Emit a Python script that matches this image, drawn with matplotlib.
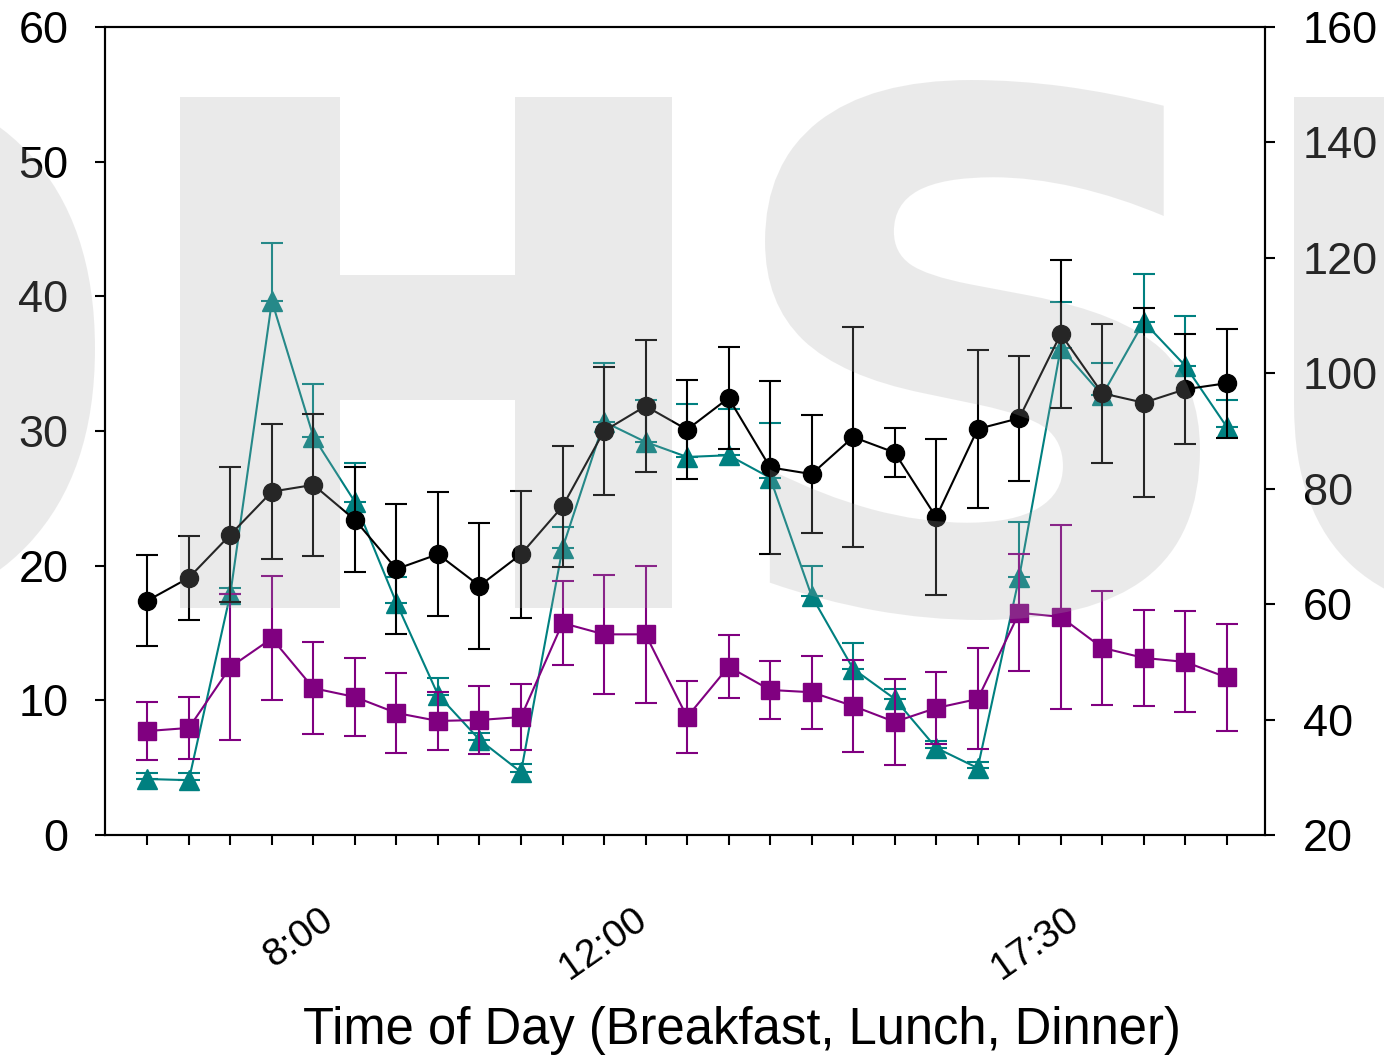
import numpy as np
import matplotlib
matplotlib.use("Agg")
import matplotlib.pyplot as plt
from matplotlib.textpath import TextPath
from matplotlib.font_manager import FontProperties
from matplotlib.patches import PathPatch, Rectangle
from matplotlib.transforms import Affine2D

plt.rcParams["font.family"] = ["Liberation Sans", "DejaVu Sans"]

# ---- data -------------------------------------------------------------
time_labels = ["8:00", "12:00", "17:30"]
time_label_pos = [3.63, 10.99, 21.39]

black_mean = [17.4, 19.1, 22.3, 25.5, 26.0, 23.4, 19.75, 20.85, 18.5, 20.85,
              24.4, 30.0, 31.85, 30.1, 32.45, 27.3, 26.8, 29.55, 28.4, 23.6,
              30.15, 30.95, 37.2, 32.8, 32.1, 33.1, 33.55]
black_err = [3.4, 3.1, 5.0, 5.0, 5.25, 3.9, 4.8, 4.6, 4.7, 4.7,
             4.5, 4.75, 4.9, 3.7, 3.8, 6.45, 4.4, 8.2, 1.85, 5.8,
             5.9, 4.65, 5.5, 5.15, 7.0, 4.1, 4.05]

purple_mean = [7.72, 7.95, 12.47, 14.6, 10.9, 10.25, 9.06, 8.47, 8.54, 8.76,
               15.74, 14.9, 14.9, 8.76, 12.5, 10.77, 10.6, 9.58, 8.4, 9.43,
               10.1, 16.5, 16.2, 13.9, 13.15, 12.85, 11.7]
purple_err = [2.15, 2.3, 5.4, 4.6, 3.4, 2.9, 3.0, 2.15, 2.5, 2.45,
              3.1, 4.4, 5.1, 2.65, 2.35, 2.15, 2.7, 3.4, 3.2, 2.7,
              3.75, 4.35, 6.85, 4.25, 3.55, 3.75, 4.0]

teal_mean = [29.7, 29.5, 61.8, 112.5, 89.0, 77.7, 60.2, 44.3, 36.5, 30.9,
             69.7, 91.6, 88.1, 85.5, 85.8, 81.9, 61.4, 48.8, 43.6, 35.1,
             31.6, 64.7, 104.4, 96.2, 108.9, 101.3, 90.7]
teal_err = [1.0, 1.2, 1.0, 10.1, 9.2, 6.8, 4.5, 2.9, 1.2, 1.4,
            3.6, 10.2, 7.3, 9.2, 8.0, 9.5, 5.2, 4.5, 1.7, 1.2,
            1.0, 9.5, 8.0, 5.5, 8.3, 8.7, 4.7]

left_ticks = [0, 10, 20, 30, 40, 50, 60]
right_ticks = [20, 40, 60, 80, 100, 120, 140, 160]

x = np.arange(len(black_mean))

# ---- figure -----------------------------------------------------------
W, H = 1384, 1059
fig = plt.figure(figsize=(W / 100, H / 100), dpi=100)
ax = fig.add_axes([105 / W, 1 - 835 / H, 1160 / W, 808 / H])
ax2 = ax.twinx()
ax.set_zorder(ax2.get_zorder() + 1)
ax.patch.set_visible(False)

common = dict(lw=1.5, elinewidth=1.5, capsize=8, capthick=1.5)

ax2.errorbar(x, teal_mean, yerr=[np.zeros(len(teal_err)), teal_err],
             fmt="-^", color="#008080", ms=15, **common)
ax.errorbar(x, purple_mean, yerr=purple_err, fmt="-s", color="#800080",
            ms=13, zorder=2, **common)
ax.errorbar(x, black_mean, yerr=black_err, fmt="-o", color="#000000",
            ms=13, zorder=3, **common)

ax.set_xlim(-1.02, 26.92)
ax.set_ylim(0, 60)
ax2.set_ylim(20, 160)
ax.set_yticks(left_ticks)
ax2.set_yticks(right_ticks)

ax.set_xticks(time_label_pos, labels=time_labels)
ax.set_xticks(x, minor=True)
ax.tick_params(axis="x", which="major", length=0, pad=48, labelsize=28,
               labelrotation=35)
ax.tick_params(axis="x", which="minor", length=7.2, width=1.5, direction="out")
ax.tick_params(axis="y", length=7.2, width=1.5, direction="out", pad=19,
               labelsize=32.5)
ax2.tick_params(axis="y", length=7.2, width=1.5, direction="out", pad=20,
                labelsize=32.5)

for a in (ax, ax2):
    for s in a.spines.values():
        s.set_linewidth(1.5)

ax.set_xlabel("Time of Day (Breakfast, Lunch, Dinner)", fontsize=36.5)
ax.xaxis.set_label_coords(0.549, -0.212)

# ---- translucent OHSU watermark laid over the plot ---------------------
wm_style = dict(facecolor="#a7a7a7", edgecolor="none", alpha=0.23, zorder=10)


def px_rect(x0, x1, ytop, ybot):
    """Rectangle given in pixel coordinates measured from the top-left."""
    return Rectangle((x0 / W, 1 - ybot / H), (x1 - x0) / W, (ybot - ytop) / H,
                     transform=fig.transFigure, **wm_style)


# block letter H: two stems and a crossbar
for r in [(180, 340, 97, 608), (515, 672, 97, 608), (340, 515, 275, 400)]:
    fig.add_artist(px_rect(*r))

fp = FontProperties(family="DejaVu Sans", weight="bold")
letters = [
    ("O", -405, 95, 82, 615),
    ("S", 765, 1200, 80, 620),
    ("U", 1294, 1774, 97, 620),
]
for ch, x0, x1, ytop, ybot in letters:
    tp = TextPath((0, 0), ch, size=100, prop=fp)
    ext = tp.get_extents()
    tr = (Affine2D()
          .translate(-ext.x0, -ext.y0)
          .scale((x1 - x0) / ext.width, (ybot - ytop) / ext.height)
          .translate(x0, H - ybot)
          .scale(1 / W, 1 / H))
    fig.add_artist(PathPatch(tr.transform_path(tp), transform=fig.transFigure,
                             **wm_style))

fig.savefig("out.png", dpi=100)
